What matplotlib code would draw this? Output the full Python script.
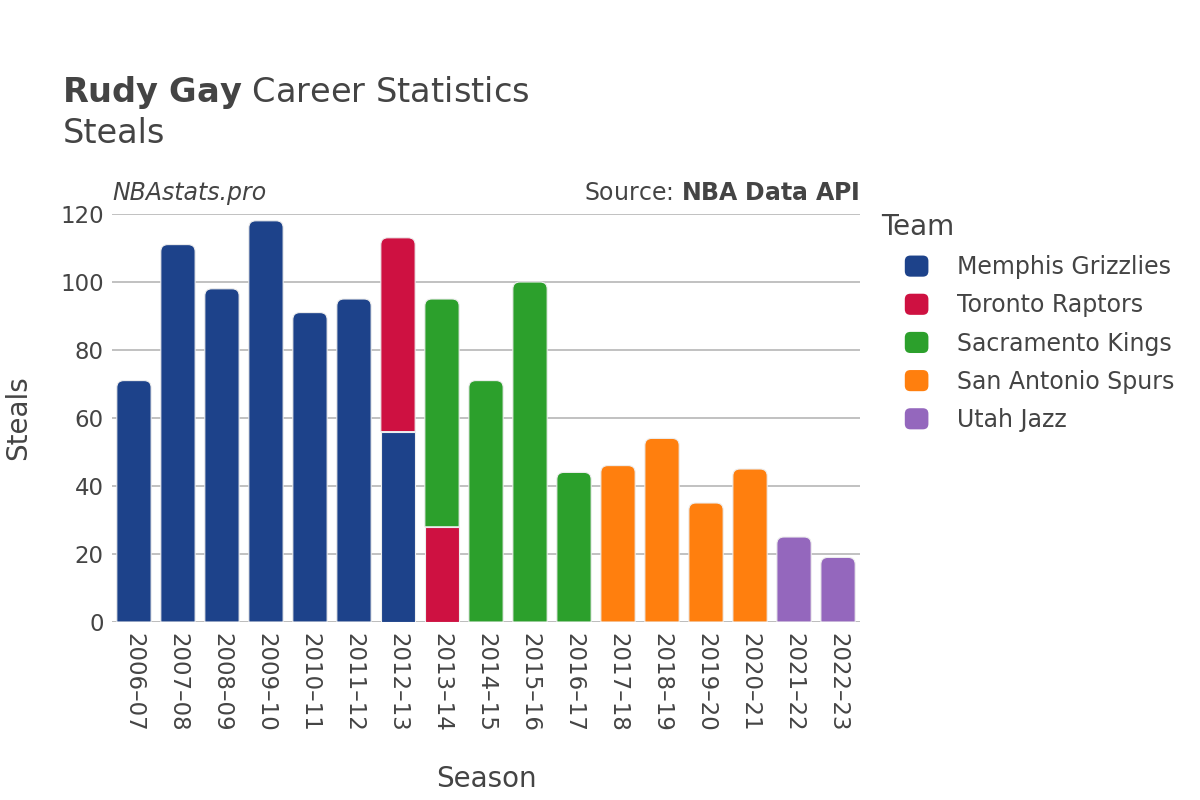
import numpy as np
import matplotlib.pyplot as plt
from matplotlib.path import Path
from matplotlib.patches import PathPatch, FancyBboxPatch
from matplotlib.legend_handler import HandlerPatch

seasons = ["2006–07", "2007–08", "2008–09", "2009–10", "2010–11", "2011–12",
           "2012–13", "2013–14", "2014–15", "2015–16", "2016–17", "2017–18",
           "2018–19", "2019–20", "2020–21", "2021–22", "2022–23"]
teams = ["Memphis Grizzlies", "Toronto Raptors", "Sacramento Kings",
         "San Antonio Spurs", "Utah Jazz"]
memphis = [71, 111, 98, 118, 91, 95, 56, 0, 0, 0, 0, 0, 0, 0, 0, 0, 0]
toronto = [0, 0, 0, 0, 0, 0, 57, 28, 0, 0, 0, 0, 0, 0, 0, 0, 0]
sacramento = [0, 0, 0, 0, 0, 0, 0, 67, 71, 100, 44, 0, 0, 0, 0, 0, 0]
san_antonio = [0, 0, 0, 0, 0, 0, 0, 0, 0, 0, 0, 46, 54, 35, 45, 0, 0]
utah = [0, 0, 0, 0, 0, 0, 0, 0, 0, 0, 0, 0, 0, 0, 0, 25, 19]
colors = ["#1d428a", "#ce1141", "#2ca02c", "#ff7f0e", "#9467bd"]

series = [memphis, toronto, sacramento, san_antonio, utah]
text_color = "#444444"
plt.rcParams['font.family'] = ['DejaVu Sans']

fig = plt.figure(figsize=(12, 8), dpi=100)
ax = fig.add_axes([0.0933, 0.2225, 0.6234, 0.51])
ax.set_xlim(-0.5, len(seasons) - 0.5)
ax.set_ylim(0, 120)

# corner radius in data units (about 7 px)
ax_w_px = 0.6234 * 1200
ax_h_px = 0.51 * 800
rx = 7 * (len(seasons) / ax_w_px)
ry = 7 * (120 / ax_h_px)
width = 0.78


def bar_path(x0, y0, w, h, rounded):
    x1, y1 = x0 + w, y0 + h
    if not rounded:
        verts = [(x0, y0), (x1, y0), (x1, y1), (x0, y1), (x0, y0)]
        codes = [Path.MOVETO] + [Path.LINETO] * 3 + [Path.CLOSEPOLY]
        return Path(verts, codes)
    r_y = min(ry, h / 2)
    verts = [(x0, y0), (x1, y0), (x1, y1 - r_y), (x1, y1), (x1 - rx, y1),
             (x0 + rx, y1), (x0, y1), (x0, y1 - r_y), (x0, y0)]
    codes = [Path.MOVETO, Path.LINETO, Path.LINETO, Path.CURVE3, Path.CURVE3,
             Path.LINETO, Path.CURVE3, Path.CURVE3, Path.CLOSEPOLY]
    return Path(verts, codes)


totals = np.sum(series, axis=0)
bottom = np.zeros(len(seasons))
for vals, col in zip(series, colors):
    for i, v in enumerate(vals):
        if v <= 0:
            continue
        top = bottom[i] + v >= totals[i]
        p = bar_path(i - width / 2, bottom[i], width, v, top)
        ax.add_patch(PathPatch(p, facecolor=col, edgecolor="#eeeeee",
                               linewidth=0.8, zorder=3))
    bottom += np.array(vals)

ax.set_yticks([0, 20, 40, 60, 80, 100, 120])
ax.yaxis.grid(True, color="#b0b0b0", linewidth=1.1, zorder=0)
ax.axhline(0, color="#e6e6e6", linewidth=2, zorder=1)
for s in ax.spines.values():
    s.set_visible(False)
ax.set_xticks(range(len(seasons)))
ax.set_xticklabels(seasons, rotation=-90, fontsize=16.5, color=text_color)
ax.tick_params(axis='y', labelsize=16.5, colors=text_color, length=0, pad=6)
ax.tick_params(axis='x', length=0, pad=8)
ax.set_xlabel("Season", fontsize=20, color=text_color, labelpad=24)
ax.set_ylabel("Steals", fontsize=20, color=text_color, labelpad=20)

fig.text(0.052, 0.8725, r"$\bf{Rudy\ Gay}$ Career Statistics", fontsize=24.2,
         color=text_color, va="baseline")
fig.text(0.052, 0.821, "Steals", fontsize=24.2, color=text_color, va="baseline")
fig.text(0.094, 0.75, "NBAstats.pro", fontsize=17, style="italic",
         color=text_color, va="baseline")
fig.text(0.716, 0.75, "Source: $\\bf{NBA\\ Data\\ API}$", fontsize=17,
         color=text_color, ha="right", va="baseline")


class RoundHandler(HandlerPatch):
    def create_artists(self, legend, orig_handle, xdescent, ydescent,
                       width, height, fontsize, trans):
        p = FancyBboxPatch((-xdescent + 2, -ydescent + 2), width - 4, height - 4,
                           boxstyle="round,pad=2,rounding_size=4",
                           facecolor=orig_handle.get_facecolor(),
                           edgecolor="none", transform=trans)
        return [p]


fig.text(0.734, 0.716, "Team", fontsize=20, color=text_color, va="center")
handles = [FancyBboxPatch((0, 0), 1, 1, facecolor=c, label=t)
           for t, c in zip(teams, colors)]
leg = fig.legend(handles=handles, loc="upper left", bbox_to_anchor=(0.754, 0.681),
                 frameon=False, fontsize=17, borderpad=0, borderaxespad=0,
                 handlelength=1.0, handleheight=1.0, handletextpad=1.2,
                 labelspacing=0.6, labelcolor=text_color,
                 handler_map={FancyBboxPatch: RoundHandler()})

plt.savefig("out.png", dpi=100)
